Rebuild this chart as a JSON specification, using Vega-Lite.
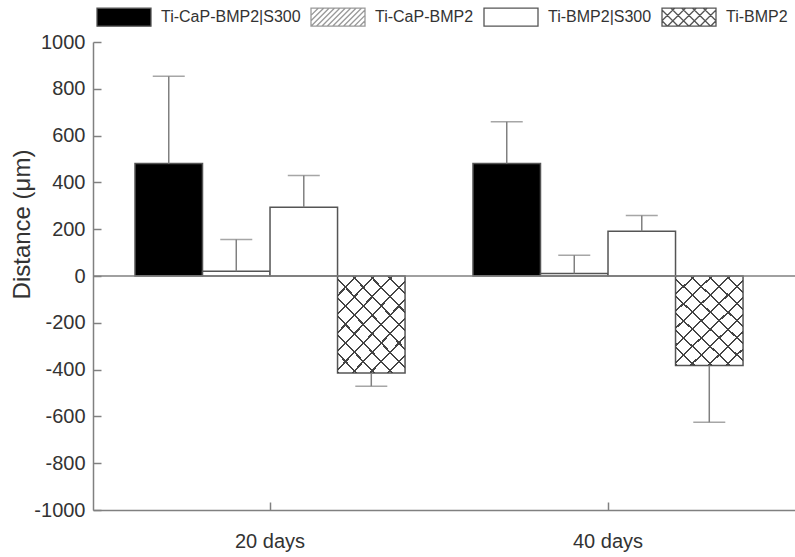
{
  "$schema": "https://vega.github.io/schema/vega-lite/v6.json",
  "width": 702,
  "height": 468,
  "autosize": {"type": "none"},
  "padding": {"left": 93, "top": 42, "right": 0, "bottom": 47},
  "background": "white",
  "config": {
    "view": {"stroke": null},
    "font": "Liberation Sans",
    "axis": {"domainColor": "#808080", "domainWidth": 1.5, "tickColor": "#808080", "tickWidth": 1.5, "labelColor": "#333", "labelFont": "Liberation Sans", "labelFontSize": 20, "titleFont": "Liberation Sans", "titleFontSize": 20, "titleFontWeight": "normal", "titleColor": "#333", "grid": false}
  },
  "data": {
    "values": [
      {"group": "20 days", "series": "Ti-CaP-BMP2|S300", "value": 481, "end": 854},
      {"group": "20 days", "series": "Ti-CaP-BMP2", "value": 20, "end": 156},
      {"group": "20 days", "series": "Ti-BMP2|S300", "value": 294, "end": 429},
      {"group": "20 days", "series": "Ti-BMP2", "value": -414, "end": -471},
      {"group": "40 days", "series": "Ti-CaP-BMP2|S300", "value": 481, "end": 659},
      {"group": "40 days", "series": "Ti-CaP-BMP2", "value": 11, "end": 89},
      {"group": "40 days", "series": "Ti-BMP2|S300", "value": 191, "end": 259},
      {"group": "40 days", "series": "Ti-BMP2", "value": -382, "end": -625}
    ]
  },
  "encoding": {
    "x": {
      "field": "group", "type": "nominal",
      "scale": {"paddingInner": 0.201, "paddingOuter": 0.139, "align": 0.447},
      "axis": {"title": null, "labelAngle": 0, "tickSize": -8, "labelPadding": 29, "labelBaseline": "top", "labelDx": 7}
    },
    "xOffset": {
      "field": "series", "type": "nominal",
      "scale": {"domain": ["Ti-CaP-BMP2|S300", "Ti-CaP-BMP2", "Ti-BMP2|S300", "Ti-BMP2"], "paddingInner": 0, "paddingOuter": 0}
    }
  },
  "layer": [
    {
      "mark": {"type": "bar", "stroke": "#555", "strokeWidth": 1.5},
      "encoding": {
        "y": {
          "field": "value", "type": "quantitative",
          "scale": {"domain": [-1000, 1000], "nice": false},
          "axis": {"title": "Distance (μm)", "values": [-1000, -800, -600, -400, -200, 0, 200, 400, 600, 800, 1000], "format": "d", "labelExpr": "replace(datum.label, '−', '-')", "tickSize": -8, "labelPadding": 16, "titleFontSize": 24, "titleAngle": -90, "titleAlign": "center", "titleBaseline": "middle", "titleX": -71, "titleY": 182}
        },
        "fill": {
          "field": "series", "type": "nominal",
          "scale": {"domain": ["Ti-CaP-BMP2|S300", "Ti-CaP-BMP2", "Ti-BMP2|S300", "Ti-BMP2"], "range": ["#000000", "#ffffff", "#ffffff", "#ffffff"]},
          "legend": {
            "orient": "top", "direction": "horizontal", "title": null, "offset": 10, "padding": 3,
            "symbolSize": 2916, "symbolStrokeWidth": 1.3, "symbolStrokeColor": "#555",
            "labelFont": "Liberation Sans", "labelFontSize": 16, "labelColor": "#333", "labelOffset": 9, "columnPadding": 7,
            "encode": {
              "symbols": {
                "update": {
                  "shape": {"signal": "datum.value === 'Ti-CaP-BMP2' ? 'M-1,-0.333H1V0.333H-1Z M-1,-0.067L-0.734,-0.333 M-1,0.133L-0.534,-0.333 M-1,0.333L-0.334,-0.333 M-0.8,0.333L-0.134,-0.333 M-0.6,0.333L0.066,-0.333 M-0.4,0.333L0.266,-0.333 M-0.2,0.333L0.466,-0.333 M0,0.333L0.666,-0.333 M0.2,0.333L0.866,-0.333 M0.4,0.333L1,-0.267 M0.6,0.333L1,-0.067 M0.8,0.333L1,0.133' : datum.value === 'Ti-BMP2' ? 'M-1,-0.333H1V0.333H-1Z M-1,0.133L-0.534,-0.333 M-0.8,0.333L-0.134,-0.333 M-0.4,0.333L0.266,-0.333 M0,0.333L0.666,-0.333 M0.4,0.333L1,-0.267 M0.8,0.333L1,0.133 M1,0.133L0.534,-0.333 M0.8,0.333L0.134,-0.333 M0.4,0.333L-0.266,-0.333 M0,0.333L-0.666,-0.333 M-0.4,0.333L-1,-0.267 M-0.8,0.333L-1,0.133' : 'M-1,-0.333H1V0.333H-1Z'"},
                  "stroke": {"signal": "datum.value === 'Ti-CaP-BMP2' ? '#999999' : '#555555'"},
                  "strokeWidth": {"value": 1.3}
                }
              }
            }
          }
        }
      }
    },
    {
      "transform": [{"filter": "datum.series === 'Ti-BMP2'"}],
      "mark": {
        "type": "bar",
        "fill": {
          "gradient": "linear", "x1": 0, "y1": 0, "x2": 1, "y2": 1.38,
          "stops": [
            {"offset": 0, "color": "#444"}, {"offset": 0.011, "color": "#444"}, {"offset": 0.011, "color": "rgba(255,255,255,0)"}, {"offset": 0.0909, "color": "rgba(255,255,255,0)"},
            {"offset": 0.0909, "color": "#444"}, {"offset": 0.1018, "color": "#444"}, {"offset": 0.1018, "color": "rgba(255,255,255,0)"}, {"offset": 0.1818, "color": "rgba(255,255,255,0)"},
            {"offset": 0.1818, "color": "#444"}, {"offset": 0.1927, "color": "#444"}, {"offset": 0.1927, "color": "rgba(255,255,255,0)"}, {"offset": 0.2727, "color": "rgba(255,255,255,0)"},
            {"offset": 0.2727, "color": "#444"}, {"offset": 0.2836, "color": "#444"}, {"offset": 0.2836, "color": "rgba(255,255,255,0)"}, {"offset": 0.3636, "color": "rgba(255,255,255,0)"},
            {"offset": 0.3636, "color": "#444"}, {"offset": 0.3745, "color": "#444"}, {"offset": 0.3745, "color": "rgba(255,255,255,0)"}, {"offset": 0.4545, "color": "rgba(255,255,255,0)"},
            {"offset": 0.4545, "color": "#444"}, {"offset": 0.4655, "color": "#444"}, {"offset": 0.4655, "color": "rgba(255,255,255,0)"}, {"offset": 0.5455, "color": "rgba(255,255,255,0)"},
            {"offset": 0.5455, "color": "#444"}, {"offset": 0.5564, "color": "#444"}, {"offset": 0.5564, "color": "rgba(255,255,255,0)"}, {"offset": 0.6364, "color": "rgba(255,255,255,0)"},
            {"offset": 0.6364, "color": "#444"}, {"offset": 0.6473, "color": "#444"}, {"offset": 0.6473, "color": "rgba(255,255,255,0)"}, {"offset": 0.7273, "color": "rgba(255,255,255,0)"},
            {"offset": 0.7273, "color": "#444"}, {"offset": 0.7382, "color": "#444"}, {"offset": 0.7382, "color": "rgba(255,255,255,0)"}, {"offset": 0.8182, "color": "rgba(255,255,255,0)"},
            {"offset": 0.8182, "color": "#444"}, {"offset": 0.8291, "color": "#444"}, {"offset": 0.8291, "color": "rgba(255,255,255,0)"}, {"offset": 1, "color": "rgba(255,255,255,0)"}
          ]
        }
      },
      "encoding": {"y": {"field": "value", "type": "quantitative"}}
    },
    {
      "transform": [{"filter": "datum.series === 'Ti-BMP2'"}],
      "mark": {
        "type": "bar",
        "fill": {
          "gradient": "linear", "x1": 0, "y1": 1, "x2": 1, "y2": -0.38,
          "stops": [
            {"offset": 0, "color": "#444"}, {"offset": 0.011, "color": "#444"}, {"offset": 0.011, "color": "rgba(255,255,255,0)"}, {"offset": 0.0909, "color": "rgba(255,255,255,0)"},
            {"offset": 0.0909, "color": "#444"}, {"offset": 0.1018, "color": "#444"}, {"offset": 0.1018, "color": "rgba(255,255,255,0)"}, {"offset": 0.1818, "color": "rgba(255,255,255,0)"},
            {"offset": 0.1818, "color": "#444"}, {"offset": 0.1927, "color": "#444"}, {"offset": 0.1927, "color": "rgba(255,255,255,0)"}, {"offset": 0.2727, "color": "rgba(255,255,255,0)"},
            {"offset": 0.2727, "color": "#444"}, {"offset": 0.2836, "color": "#444"}, {"offset": 0.2836, "color": "rgba(255,255,255,0)"}, {"offset": 0.3636, "color": "rgba(255,255,255,0)"},
            {"offset": 0.3636, "color": "#444"}, {"offset": 0.3745, "color": "#444"}, {"offset": 0.3745, "color": "rgba(255,255,255,0)"}, {"offset": 0.4545, "color": "rgba(255,255,255,0)"},
            {"offset": 0.4545, "color": "#444"}, {"offset": 0.4655, "color": "#444"}, {"offset": 0.4655, "color": "rgba(255,255,255,0)"}, {"offset": 0.5455, "color": "rgba(255,255,255,0)"},
            {"offset": 0.5455, "color": "#444"}, {"offset": 0.5564, "color": "#444"}, {"offset": 0.5564, "color": "rgba(255,255,255,0)"}, {"offset": 0.6364, "color": "rgba(255,255,255,0)"},
            {"offset": 0.6364, "color": "#444"}, {"offset": 0.6473, "color": "#444"}, {"offset": 0.6473, "color": "rgba(255,255,255,0)"}, {"offset": 0.7273, "color": "rgba(255,255,255,0)"},
            {"offset": 0.7273, "color": "#444"}, {"offset": 0.7382, "color": "#444"}, {"offset": 0.7382, "color": "rgba(255,255,255,0)"}, {"offset": 0.8182, "color": "rgba(255,255,255,0)"},
            {"offset": 0.8182, "color": "#444"}, {"offset": 0.8291, "color": "#444"}, {"offset": 0.8291, "color": "rgba(255,255,255,0)"}, {"offset": 1, "color": "rgba(255,255,255,0)"}
          ]
        }
      },
      "encoding": {"y": {"field": "value", "type": "quantitative"}}
    },
    {
      "mark": {"type": "rule", "color": "#808080", "strokeWidth": 1.5},
      "encoding": {"y": {"field": "value", "type": "quantitative"}, "y2": {"field": "end"}}
    },
    {
      "mark": {"type": "tick", "color": "#808080", "thickness": 1.5, "size": 32},
      "encoding": {"y": {"field": "end", "type": "quantitative"}}
    },
    {
      "data": {"values": [{"zero": 0}]},
      "mark": {"type": "rule", "color": "#808080", "strokeWidth": 1.5},
      "encoding": {"y": {"field": "zero", "type": "quantitative"}, "x": null, "xOffset": null}
    }
  ]
}
